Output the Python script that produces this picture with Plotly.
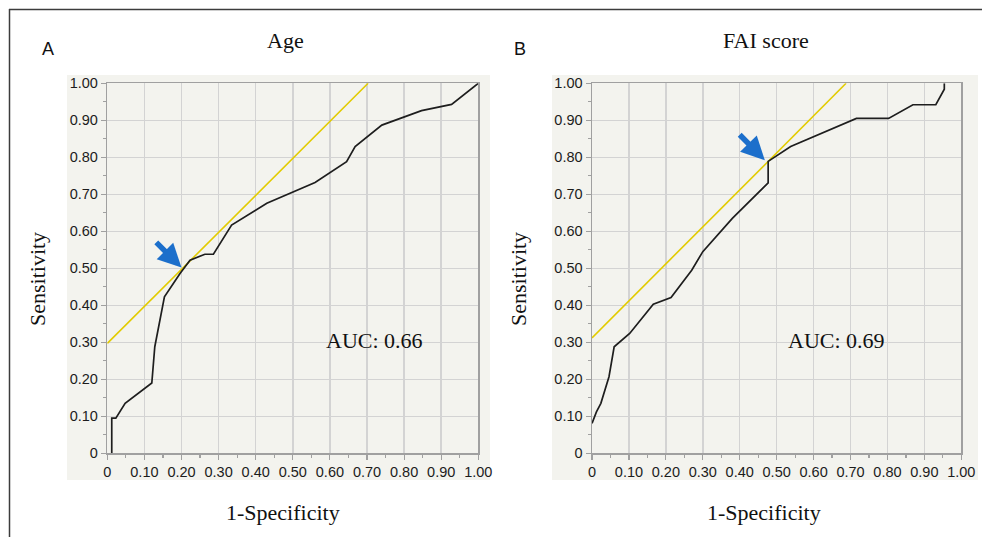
import plotly.graph_objects as go

W, H = 982, 537

# ---- data ----
age_fpr = [0.012, 0.012, 0.023, 0.048, 0.12, 0.128, 0.154, 0.196, 0.223, 0.263, 0.286,
           0.335, 0.43, 0.56, 0.645, 0.668, 0.74, 0.847, 0.928, 1.0]
age_tpr = [0.0, 0.095, 0.095, 0.135, 0.19, 0.288, 0.423, 0.486, 0.522, 0.538, 0.538,
           0.617, 0.676, 0.732, 0.788, 0.829, 0.887, 0.926, 0.943, 1.0]

fai_fpr = [0.0, 0.012, 0.024, 0.046, 0.06, 0.102, 0.166, 0.214, 0.27, 0.30, 0.38, 0.45,
           0.477, 0.477, 0.538, 0.716, 0.803, 0.869, 0.931, 0.954, 0.954]
fai_tpr = [0.081, 0.112, 0.135, 0.207, 0.288, 0.324, 0.403, 0.421, 0.495, 0.545, 0.635,
           0.703, 0.731, 0.789, 0.829, 0.905, 0.905, 0.942, 0.942, 0.984, 1.0]

ref_x_age = [0.0, 0.703]
ref_y_age = [0.297, 1.0]
ref_x_fai = [0.0, 0.688]
ref_y_fai = [0.312, 1.0]

titles = ["Age", "FAI score"]
panel_letters = ["A", "B"]
auc_labels = ["AUC: 0.66", "AUC: 0.69"]
tick_vals = [0, 0.1, 0.2, 0.3, 0.4, 0.5, 0.6, 0.7, 0.8, 0.9, 1.0]
tick_text = ["0", "0.10", "0.20", "0.30", "0.40", "0.50", "0.60", "0.70", "0.80", "0.90", "1.00"]
arrow_tips = [(0.2, 0.502), (0.468, 0.792)]
arrow_tails = [(0.128, 0.574), (0.396, 0.865)]

# ---- helpers ----
def px(x):
    return x / W

def py(y):
    return 1 - y / H

YELLOW = "#e2cb00"
BLUE = "#1c6fcb"
CURVE = "#1e1e1e"

fig = go.Figure()

fig.add_trace(go.Scatter(x=ref_x_age, y=ref_y_age, mode="lines",
                         line=dict(color=YELLOW, width=1.6), xaxis="x", yaxis="y",
                         showlegend=False, hoverinfo="skip"))
fig.add_trace(go.Scatter(x=age_fpr, y=age_tpr, mode="lines",
                         line=dict(color=CURVE, width=1.7), xaxis="x", yaxis="y",
                         showlegend=False))
fig.add_trace(go.Scatter(x=ref_x_fai, y=ref_y_fai, mode="lines",
                         line=dict(color=YELLOW, width=1.6), xaxis="x2", yaxis="y2",
                         showlegend=False, hoverinfo="skip"))
fig.add_trace(go.Scatter(x=fai_fpr, y=fai_tpr, mode="lines",
                         line=dict(color=CURVE, width=1.7), xaxis="x2", yaxis="y2",
                         showlegend=False))

axis_common = dict(
    range=[0, 1], tickvals=tick_vals, ticktext=tick_text,
    showgrid=True, gridcolor="#d3d3d3", gridwidth=1.5,
    showline=True, linecolor="#a0a0a0", linewidth=1.5, mirror=True,
    ticks="outside", ticklen=5, tickcolor="#a0a0a0", tickwidth=1.2,
    minor=dict(dtick=0.05, ticks="outside", ticklen=3, tickcolor="#a0a0a0", showgrid=False),
    tickfont=dict(family="Liberation Sans, Arial, sans-serif", size=14.5, color="#1c1c1c"),
    zeroline=False, fixedrange=True, automargin=False,
)

ydom = [py(453.3), py(83.3)]
fig.update_layout(
    width=W, height=H, autosize=False,
    margin=dict(l=0, r=0, t=0, b=0, pad=0, autoexpand=False),
    paper_bgcolor="white", plot_bgcolor="white",
    xaxis=dict(domain=[px(107.3), px(478.3)], anchor="y", **axis_common),
    yaxis=dict(domain=ydom, anchor="x", **axis_common),
    xaxis2=dict(domain=[px(592), px(961.3)], anchor="y2", **axis_common),
    yaxis2=dict(domain=ydom, anchor="x2", **axis_common),
)

# grey panels and outer frame
shapes = [
    dict(type="rect", xref="paper", yref="paper", x0=px(67), x1=px(490), y0=py(480), y1=py(75),
         fillcolor="#f3f3ee", line=dict(width=0), layer="below"),
    dict(type="rect", xref="paper", yref="paper", x0=px(552), x1=px(978), y0=py(480), y1=py(75),
         fillcolor="#f3f3ee", line=dict(width=0), layer="below"),
    dict(type="line", xref="paper", yref="paper", x0=px(9), x1=1.0, y0=py(9.5), y1=py(9.5),
         line=dict(color="#3c3c3c", width=1.5)),
    dict(type="line", xref="paper", yref="paper", x0=px(9.5), x1=px(9.5), y0=py(9), y1=0,
         line=dict(color="#3c3c3c", width=1.5)),
]
fig.update_layout(shapes=shapes)

serif = "Liberation Serif, Times New Roman, serif"
sans = "Liberation Sans, Arial, sans-serif"
ann = []
panel_cx = [285, 766]
letter_x = [48, 520]
ylabel_x = [37, 518]
auc_x = [374, 836]
for i in range(2):
    ann.append(dict(text=titles[i], x=px(panel_cx[i]), y=py(40), xref="paper", yref="paper",
                    showarrow=False, xanchor="center", yanchor="middle",
                    font=dict(family=serif, size=22, color="#111")))
    ann.append(dict(text=panel_letters[i], x=px(letter_x[i]), y=py(49), xref="paper", yref="paper",
                    showarrow=False, xanchor="center", yanchor="middle",
                    font=dict(family=sans, size=18, color="#111")))
    ann.append(dict(text="Sensitivity", x=px(ylabel_x[i]), y=py(279), xref="paper", yref="paper",
                    showarrow=False, xanchor="center", yanchor="middle", textangle=-90,
                    font=dict(family=serif, size=22, color="#111")))
    ann.append(dict(text="1-Specificity", x=px(panel_cx[i] - 2), y=py(512), xref="paper", yref="paper",
                    showarrow=False, xanchor="center", yanchor="middle",
                    font=dict(family=serif, size=22, color="#111")))
    ann.append(dict(text=auc_labels[i], x=px(auc_x[i]), y=py(340), xref="paper", yref="paper",
                    showarrow=False, xanchor="center", yanchor="middle",
                    font=dict(family=serif, size=22, color="#111")))
    xr = "x" if i == 0 else "x2"
    yr = "y" if i == 0 else "y2"
    ann.append(dict(text="", x=arrow_tips[i][0], y=arrow_tips[i][1], xref=xr, yref=yr,
                    ax=arrow_tails[i][0], ay=arrow_tails[i][1], axref=xr, ayref=yr,
                    showarrow=True, arrowhead=2, arrowsize=0.85, arrowwidth=5.5,
                    arrowcolor=BLUE, standoff=0))
fig.update_layout(annotations=ann)

fig.write_html(
    "out.html",
    config={"displayModeBar": False, "staticPlot": True},
    post_script="document.body.style.margin='0';document.body.style.overflow='hidden';",
)
